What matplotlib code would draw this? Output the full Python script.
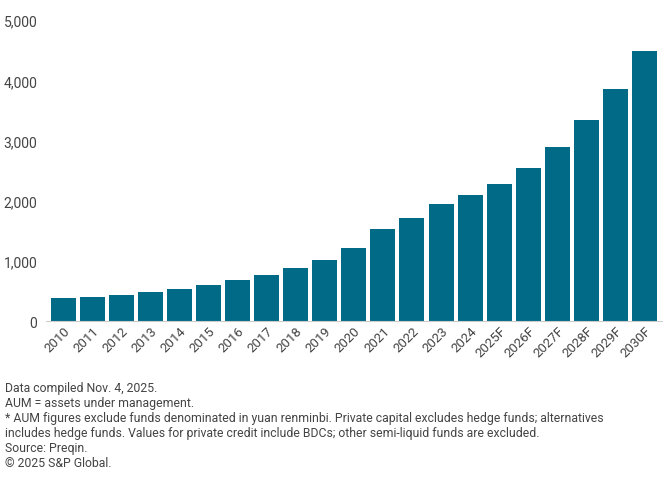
import matplotlib.pyplot as plt

years = ["2010", "2011", "2012", "2013", "2014", "2015", "2016", "2017", "2018", "2019",
         "2020", "2021", "2022", "2023", "2024", "2025F", "2026F", "2027F", "2028F", "2029F", "2030F"]
aum = [382, 400, 430, 480, 530, 600, 680, 765, 880, 1010,
       1210, 1530, 1710, 1945, 2095, 2275, 2540, 2890, 3340, 3855, 4490]

notes = ("Data compiled Nov. 4, 2025.\n"
         "AUM = assets under management.\n"
         "* AUM figures exclude funds denominated in yuan renminbi. Private capital excludes hedge funds; alternatives\n"
         "includes hedge funds. Values for private credit include BDCs; other semi-liquid funds are excluded.\n"
         "Source: Preqin.\n"
         "\u00a9 2025 S&P Global.")

plt.rcParams['font.family'] = ['Roboto', 'DejaVu Sans']
fig = plt.figure(figsize=(6.72, 4.81), dpi=100)
ax = fig.add_axes([0.068, 0.33, 0.917, 0.626])

ax.bar(years, aum, width=0.86, color='#006a87')
ax.set_ylim(0, 5000)
ax.set_xlim(-0.6, len(years) - 0.4)
ax.set_yticks(range(0, 5001, 1000))
ax.set_yticklabels([f"{v:,}" for v in range(0, 5001, 1000)])
ax.tick_params(axis='y', length=0, labelsize=10, colors='#444444', pad=6)
ax.tick_params(axis='x', length=0, labelsize=9.5, colors='#444444', labelrotation=45, pad=2)
for lbl in ax.get_xticklabels():
    lbl.set_ha('right')
    lbl.set_rotation_mode('anchor')
for s in ['top', 'right', 'left']:
    ax.spines[s].set_visible(False)
ax.spines['bottom'].set_color('#cccccc')

fig.text(0.007, 0.205, notes, fontsize=8.8, color='#444444', va='top', linespacing=1.2)

fig.savefig("out.png", dpi=100)
